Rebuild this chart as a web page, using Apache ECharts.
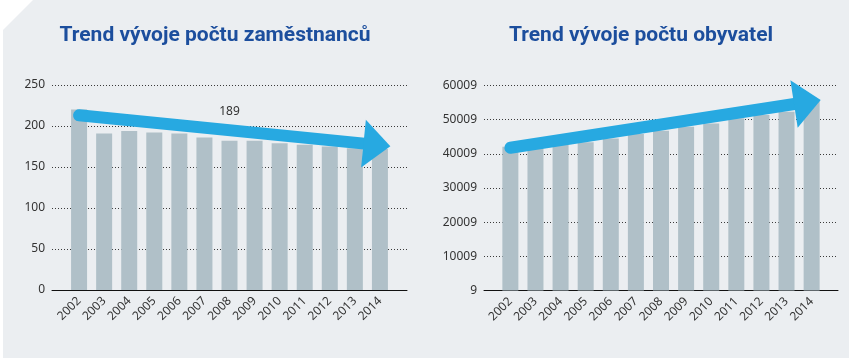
<!DOCTYPE html>
<html>
<head>
<meta charset="utf-8">
<script src="https://cdn.jsdelivr.net/npm/echarts@6/dist/echarts.min.js"></script>
<style>
html,body{margin:0;padding:0;background:#ffffff;}
#chart{width:849px;height:358px;}
</style>
</head>
<body>
<div id="chart"></div>
<script>
// ---- data ----
const years = ['2002','2003','2004','2005','2006','2007','2008','2009','2010','2011','2012','2013','2014'];
const employees = [220, 191, 194, 192, 191, 186, 182, 182, 179, 177, 175, 173, 172];
const residents = [42100, 42400, 42700, 43400, 44500, 45800, 46800, 47900, 48900, 50400, 51400, 52300, 55500];
// trend arrows: [categoryIndex, value] start and end
const employeesTrend = [[0, 213], [11.88, 177]];
const residentsTrend = [[0, 41800], [11.83, 55170]];
// free label on the employees chart: [categoryIndex, value, text]
const employeesNote = [6, 217, '189'];
const titles = ['Trend vývoje počtu zaměstnanců', 'Trend vývoje počtu obyvatel'];
const employeesAxis = {min: 0, max: 250, interval: 50};
const residentsAxis = {min: 9, max: 60009, interval: 10000};

// ---- styles ----
const BAR = '#b0c0c8';
const ARROW = '#27a9e1';
const TXT = '#333333';
const TITLE = '#1c4e9d';
const LABEL_FONT = '"Noto Sans", "Open Sans", sans-serif';

const idx = years.map((y, i) => i);

function xAxisDef(gridIndex, min, max) {
  return {
    type: 'value', gridIndex, min, max,
    axisLine: {show: true, onZero: false, lineStyle: {color: '#111', width: 1}},
    axisTick: {show: false},
    splitLine: {show: false},
    axisLabel: {
      customValues: idx,
      formatter: v => years[Math.round(v)],
      rotate: 45, fontSize: 12, margin: 9, color: TXT, fontFamily: LABEL_FONT
    }
  };
}
function yAxisDef(gridIndex, ax) {
  return {
    type: 'value', gridIndex, min: ax.min, max: ax.max, interval: ax.interval,
    axisLine: {show: false}, axisTick: {show: false},
    axisLabel: {fontSize: 12, margin: 7, color: TXT, fontFamily: LABEL_FONT, formatter: v => String(v)},
    splitLine: {show: true, lineStyle: {color: '#3a3a3a', width: 1, type: [1, 2]}}
  };
}
function arrowLine(trend) {
  return {
    silent: true,
    symbol: ['none', 'triangle'],
    label: {show: false},
    emphasis: {disabled: true},
    lineStyle: {color: ARROW, width: 12, type: 'solid', cap: 'round', opacity: 1},
    data: [[
      {coord: trend[0], symbol: 'none'},
      {coord: trend[1], symbol: 'triangle', symbolSize: [48, 27], itemStyle: {color: ARROW}}
    ]]
  };
}

const chart = echarts.init(document.getElementById('chart'), null, {renderer: 'canvas'});
chart.setOption({
  animation: false,
  backgroundColor: 'transparent',
  graphic: [{
    type: 'polygon', z: -10, silent: true,
    shape: {points: [[33, 0], [849, 0], [849, 358], [3, 358], [3, 30]]},
    style: {fill: '#ebeef1'}
  }],
  title: [
    {text: titles[0], left: 215, top: 25, padding: 0, textAlign: 'center',
     textStyle: {fontFamily: 'Roboto', fontWeight: 'bold', fontSize: 21, color: TITLE}},
    {text: titles[1], left: 641, top: 25, padding: 0, textAlign: 'center',
     textStyle: {fontFamily: 'Roboto', fontWeight: 'bold', fontSize: 21, color: TITLE}}
  ],
  grid: [
    {left: 52, right: 442, top: 85, bottom: 68, containLabel: false},
    {left: 484, right: 11, top: 85.5, bottom: 67.5, containLabel: false}
  ],
  xAxis: [xAxisDef(0, -1.08, 13.08), xAxisDef(1, -1.05, 13.05)],
  yAxis: [yAxisDef(0, employeesAxis), yAxisDef(1, residentsAxis)],
  series: [
    {
      type: 'bar', xAxisIndex: 0, yAxisIndex: 0, silent: true,
      barWidth: 16,
      data: employees.map((v, i) => [i, v]),
      itemStyle: {color: BAR},
      markLine: arrowLine(employeesTrend),
      markPoint: {
        silent: true,
        symbol: 'circle', symbolSize: 0,
        label: {show: true, position: 'inside', formatter: employeesNote[2], fontSize: 12, color: TXT, fontFamily: LABEL_FONT},
        data: [{coord: [employeesNote[0], employeesNote[1]]}]
      }
    },
    {
      type: 'bar', xAxisIndex: 1, yAxisIndex: 1, silent: true,
      barWidth: 16,
      data: residents.map((v, i) => [i, v]),
      itemStyle: {color: BAR},
      markLine: arrowLine(residentsTrend)
    }
  ]
});
</script>
</body>
</html>
